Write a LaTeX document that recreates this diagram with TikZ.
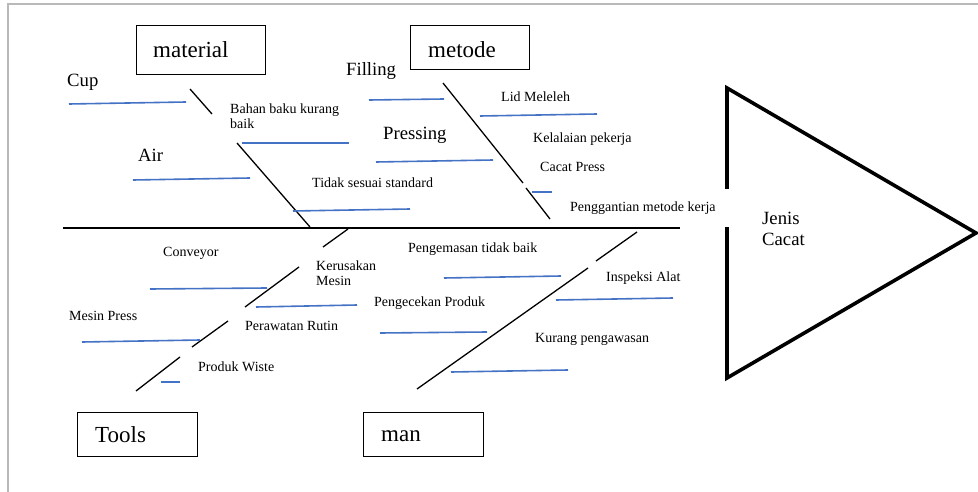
\documentclass[tikz,border=0pt]{standalone}
\usepackage{fontspec}
\setmainfont{LiberationSerif}[Extension=.ttf, UprightFont=*-Regular, BoldFont=*-Bold]
\definecolor{twigblue}{RGB}{68,114,196}
\definecolor{framegray}{RGB}{185,185,185}
\begin{document}
\begin{tikzpicture}[x=1pt, y=-1pt,
    bone/.style={line width=1.3pt},
    twig/.style={twigblue, line width=1.6pt},
    small/.style={anchor=west, inner sep=0pt, align=left, font=\fontsize{14}{15.5}\selectfont},
    big/.style={anchor=west, inner sep=0pt, align=left, font=\fontsize{18.7}{21.7}\selectfont},
    title/.style={anchor=west, inner sep=0pt, font=\fontsize{23}{26}\selectfont}]
      \useasboundingbox (0,0) rectangle (978,492);
      % page frame
      \draw[framegray, line width=1.5pt] (8,492) -- (8,4) -- (978,4);
      % head
      \draw[line width=3.6pt, line join=miter] (727,189) -- (727,88) -- (976,233) -- (727,378) -- (727,227);
      \node[big] (head) at (762,229) {Jenis\\Cacat};
      % spine
      \draw[line width=1.8pt] (63,228) -- (680,228);
      % category boxes
      \draw[line width=1pt] (136,26) rectangle (265,75)
            (410,26) rectangle (529,70)
            (77,412) rectangle (197,456)
            (363,412) rectangle (483,456);
      \node[title] (material) at (153,50) {material};
      \node[title] (metode) at (428,50) {metode};
      \node[title] (tools) at (95,435) {Tools};
      \node[title] (man) at (381,436) {man};
      % main bones
      \draw[bone] (190,89) -- (212,114) (237,143) -- (310,227);
      \draw[bone] (443,83) -- (523,183) (526,188) -- (550,219);
      \draw[bone] (348,229) -- (323,247) (299,267) -- (245,307)
                  (228,321) -- (192,347) (180,357) -- (136,391);
      \draw[bone] (637,232) -- (596,261) (588,268) -- (417,389);
      % material
      \node[big] (cup) at (67,82) {Cup};
      \node[big] (air) at (138,155) {Air};
      \node[small] (bahan) at (230,116) {Bahan baku kurang\\baik};
      \node[small] (tidak) at (312,183) {Tidak sesuai standard};
      \draw[twig] (69,104) -- (186,102);
      \draw[twig] (133,180) -- (250,178);
      \draw[twig] (242,143) -- (349,143);
      \draw[twig] (293,211) -- (410,209);
      % metode
      \node[big] (filling) at (346,71) {Filling};
      \node[big] (pressing) at (383,135) {Pressing};
      \node[small] (lid) at (501,97) {Lid Meleleh};
      \node[small] (lalai) at (533,139) {Kelalaian pekerja};
      \node[small] (cacat) at (540,167) {Cacat Press};
      \node[small] (ganti) at (570,208) {Penggantian metode kerja};
      \draw[twig] (369,100) -- (444,99);
      \draw[twig] (376,162) -- (493,160);
      \draw[twig] (480,116) -- (597,114);
      \draw[twig] (532,192) -- (552,192);
      % tools
      \node[small] (conveyor) at (163,253) {Conveyor};
      \node[small] (rusak) at (316,273) {Kerusakan\\Mesin};
      \node[small] (mesin) at (69,316) {Mesin Press};
      \node[small] (rawat) at (245,326) {Perawatan Rutin};
      \node[small] (wiste) at (198,367) {Produk Wiste};
      \draw[twig] (150,289) -- (267,288);
      \draw[twig] (82,342) -- (200,340);
      \draw[twig] (256,307) -- (357,305);
      \draw[twig] (161,382) -- (180,382);
      % man
      \node[small] (kemas) at (408,249) {Pengemasan tidak baik};
      \node[small] (cek) at (374,303) {Pengecekan Produk};
      \node[small] (inspeksi) at (606,278) {Inspeksi Alat};
      \node[small] (awas) at (535,339) {Kurang pengawasan};
      \draw[twig] (444,278) -- (561,276);
      \draw[twig] (556,300) -- (673,298);
      \draw[twig] (380,333) -- (487,332);
      \draw[twig] (451,372) -- (568,370);
\end{tikzpicture}
\end{document}
